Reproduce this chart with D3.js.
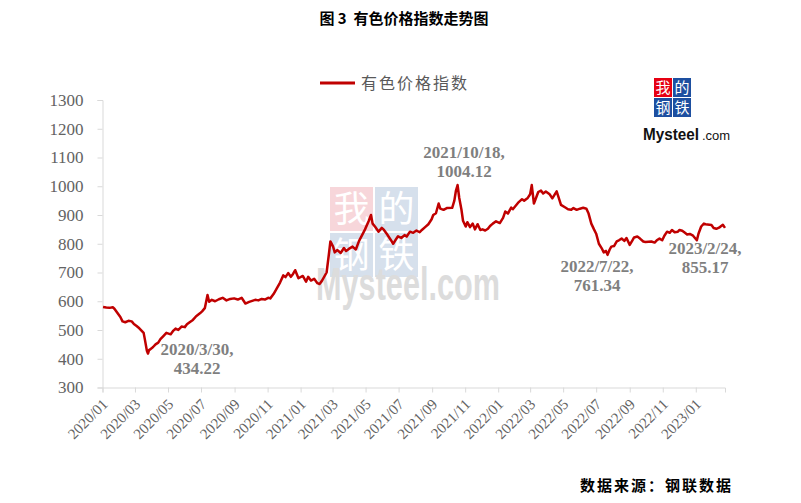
<!DOCTYPE html>
<html><head><meta charset="utf-8">
<script src="https://cdn.jsdelivr.net/npm/d3@7"></script>
<style>
html,body{margin:0;padding:0;background:#fff;}
svg{display:block;}
</style></head>
<body>
<svg id="chart" width="801" height="503"></svg>
<script>
const title = "图 3  有色价格指数走势图";
const seriesName = "有色价格指数";
const source = "数据来源：钢联数据";
const yTicks = [300,400,500,600,700,800,900,1000,1100,1200,1300];
const xTickLabels = ["2020/01","2020/03","2020/05","2020/07","2020/09","2020/11","2021/01","2021/03","2021/05","2021/07","2021/09","2021/11","2022/01","2022/03","2022/05","2022/07","2022/09","2022/11","2023/01"];
const dates = [
"2020-01-02","2020-01-08","2020-01-14","2020-01-20","2020-01-23","2020-02-03","2020-02-07","2020-02-12","2020-02-18","2020-02-24",
"2020-02-28","2020-03-04","2020-03-09","2020-03-13","2020-03-17","2020-03-19","2020-03-23","2020-03-25","2020-03-27","2020-03-30",
"2020-04-03","2020-04-08","2020-04-13","2020-04-17","2020-04-22","2020-04-28","2020-05-06","2020-05-11","2020-05-15","2020-05-20",
"2020-05-26","2020-06-01","2020-06-05","2020-06-10","2020-06-16","2020-06-22","2020-06-29","2020-07-03","2020-07-08","2020-07-13",
"2020-07-16","2020-07-21","2020-07-27","2020-08-03","2020-08-10","2020-08-17","2020-08-24","2020-08-31","2020-09-07","2020-09-14",
"2020-09-21","2020-09-28","2020-10-09","2020-10-15","2020-10-21","2020-10-27","2020-11-02","2020-11-06","2020-11-12","2020-11-18",
"2020-11-24","2020-11-30","2020-12-04","2020-12-09","2020-12-14","2020-12-18","2020-12-22","2020-12-28","2021-01-05","2021-01-11",
"2021-01-15","2021-01-20","2021-01-26","2021-02-01","2021-02-05","2021-02-09","2021-02-18","2021-02-22","2021-02-25","2021-03-02",
"2021-03-05","2021-03-10","2021-03-16","2021-03-22","2021-03-26","2021-03-31","2021-04-07","2021-04-13","2021-04-19","2021-04-26",
"2021-04-30","2021-05-07","2021-05-11","2021-05-14","2021-05-19","2021-05-25","2021-05-31","2021-06-04","2021-06-10","2021-06-16",
"2021-06-21","2021-06-25","2021-06-30","2021-07-06","2021-07-12","2021-07-16","2021-07-22","2021-07-28","2021-08-03","2021-08-09",
"2021-08-13","2021-08-19","2021-08-25","2021-08-31","2021-09-03","2021-09-08","2021-09-13","2021-09-16","2021-09-22","2021-09-28",
"2021-10-08","2021-10-12","2021-10-15","2021-10-18","2021-10-21","2021-10-25","2021-10-28","2021-11-02","2021-11-05","2021-11-10",
"2021-11-15","2021-11-19","2021-11-24","2021-11-29","2021-12-03","2021-12-08","2021-12-13","2021-12-17","2021-12-22","2021-12-28",
"2022-01-04","2022-01-10","2022-01-14","2022-01-19","2022-01-25","2022-01-28","2022-02-08","2022-02-14","2022-02-18","2022-02-24",
"2022-03-01","2022-03-04","2022-03-08","2022-03-11","2022-03-16","2022-03-21","2022-03-25","2022-03-30","2022-04-06","2022-04-11",
"2022-04-15","2022-04-19","2022-04-22","2022-04-27","2022-05-05","2022-05-10","2022-05-16","2022-05-20","2022-05-26","2022-06-01",
"2022-06-07","2022-06-13","2022-06-17","2022-06-22","2022-06-27","2022-07-01","2022-07-06","2022-07-11","2022-07-15","2022-07-19",
"2022-07-22","2022-07-26","2022-07-29","2022-08-03","2022-08-08","2022-08-12","2022-08-17","2022-08-22","2022-08-26","2022-09-01",
"2022-09-06","2022-09-09","2022-09-15","2022-09-20","2022-09-26","2022-09-30","2022-10-11","2022-10-17","2022-10-21","2022-10-26",
"2022-10-31","2022-11-04","2022-11-09","2022-11-14","2022-11-18","2022-11-23","2022-11-29","2022-12-02","2022-12-07","2022-12-12",
"2022-12-16","2022-12-21","2022-12-27","2023-01-03","2023-01-06","2023-01-11","2023-01-16","2023-01-19","2023-01-30","2023-02-03",
"2023-02-08","2023-02-13","2023-02-17","2023-02-20","2023-02-24"];
const values = [
580,578,577,579,574,545,530,527,532,530,
521,514,506,498,490,470,428,418,430,434.22,
440,450,456,468,478,490,485,498,505,500,
512,510,520,527,535,548,558,565,576,622,
598,605,600,607,612,603,608,610,606,612,
592,598,605,603,608,606,612,610,625,645,
665,690,684,698,685,695,708,680,688,668,
685,672,678,663,660,670,700,760,808,790,
770,778,768,785,775,782,790,780,810,835,
850,880,900,870,858,842,855,848,832,815,
800,812,826,820,830,825,842,838,846,840,
848,858,868,885,900,906,940,922,918,924,
925,950,985,1004.12,960,920,880,860,875,858,
870,850,868,848,850,846,852,862,870,878,
872,890,912,905,926,920,945,955,950,958,
972,1004,940,955,980,985,975,982,972,958,
970,982,965,935,926,920,918,924,918,922,
925,922,905,870,850,835,800,785,770,775,
761.34,780,790,792,808,812,818,810,820,796,
812,822,825,818,808,806,808,804,812,818,
812,828,842,838,848,840,842,848,845,838,
832,834,828,812,835,860,870,868,865,855,
852,856,862,866,855.17];
const annoDates = ["2020-03-30","2021-10-18","2022-07-22","2023-02-24"];
const annoLine1 = ["2020/3/30,","2021/10/18,","2022/7/22,","2023/2/24,"];
const annoLine2 = ["434.22","1004.12","761.34","855.17"];

const parse = d3.timeParse("%Y-%m-%d");
const data = dates.map((d,i)=>({date:parse(d), value:values[i]}));
const svg = d3.select("#chart");

const x = d3.scaleTime().domain([parse("2020-01-01"), parse("2023-02-24")]).range([102.5, 725]);
const y = d3.scaleLinear().domain([300,1300]).range([387.5, 100]);

const serif = "'Liberation Serif','Times New Roman',serif";
const cjk = "'Noto Sans CJK SC','Noto Sans',sans-serif";

// title
svg.append("text").attr("x",404).attr("y",24).attr("text-anchor","middle")
  .attr("font-family",cjk).attr("font-weight","bold").attr("font-size",15)
  .attr("fill","#000").attr("xml:space","preserve").text(title);

// watermark
const wm = svg.append("g");
const wmBoxes = [{c:"我",col:"#f7d6da",dx:0,dy:0},{c:"的",col:"#d6e0ec",dx:1,dy:0},{c:"钢",col:"#d6e0ec",dx:0,dy:1},{c:"铁",col:"#d6e0ec",dx:1,dy:1}];
wmBoxes.forEach(b=>{
  wm.append("rect").attr("x",330+b.dx*45).attr("y",187+b.dy*46).attr("width",43).attr("height",44).attr("fill",b.col);
  wm.append("text").attr("x",330+b.dx*45+21.5).attr("y",187+b.dy*46+35).attr("text-anchor","middle")
    .attr("font-family",cjk).attr("font-size",36).attr("fill","#fff").text(b.c);
});
wm.append("text").attr("x",316).attr("y",300).attr("font-family","'Liberation Sans',Arial,sans-serif")
  .attr("font-weight","bold").attr("font-size",46).attr("fill","#dcdcdc")
  .attr("textLength",184).attr("lengthAdjust","spacingAndGlyphs").text("Mysteel.com");

// axes
const gy = svg.append("g").attr("transform","translate(102.5,0)")
  .call(d3.axisLeft(y).tickValues(yTicks).tickSize(5).tickPadding(14).tickFormat(d3.format("d")));
const xTickDates = xTickLabels.map(s=>d3.timeParse("%Y/%m")(s));
const gx = svg.append("g").attr("transform","translate(0,387.5)")
  .call(d3.axisBottom(x).tickValues(xTickDates).tickSize(5).tickFormat((d,i)=>xTickLabels[i]));
[gx,gy].forEach(g=>{
  g.attr("font-family",serif);
  g.select(".domain").attr("stroke","#d9d9d9");
  g.selectAll(".tick line").attr("stroke","#d9d9d9");
  g.selectAll("text").attr("fill","#636363").attr("font-family",serif);
});
gy.selectAll("text").attr("font-size",17);
gx.selectAll("text").attr("font-size",15).attr("text-anchor","end")
  .attr("x",0).attr("y",0).attr("dy","0.35em")
  .attr("transform","translate(2,14) rotate(-45)");

// line
svg.append("path").datum(data).attr("fill","none").attr("stroke","#c00000")
  .attr("stroke-width",2.5).attr("stroke-linejoin","round")
  .attr("d", d3.line().x(d=>x(d.date)).y(d=>y(d.value)));

// legend
svg.append("line").attr("x1",320).attr("x2",355).attr("y1",83).attr("y2",83)
  .attr("stroke","#c00000").attr("stroke-width",3);
svg.append("text").attr("x",361).attr("y",89).attr("font-family",cjk).attr("font-size",16)
  .attr("letter-spacing",2).attr("fill","#595959").text(seriesName);

// small logo
const lg = svg.append("g");
const lgBoxes = [{c:"我",col:"#e60012",dx:0,dy:0},{c:"的",col:"#1d4fa0",dx:1,dy:0},{c:"钢",col:"#1d4fa0",dx:0,dy:1},{c:"铁",col:"#1d4fa0",dx:1,dy:1}];
lgBoxes.forEach(b=>{
  lg.append("rect").attr("x",654+b.dx*19).attr("y",78+b.dy*20).attr("width",18).attr("height",19).attr("fill",b.col);
  lg.append("text").attr("x",654+b.dx*19+9).attr("y",78+b.dy*20+15).attr("text-anchor","middle")
    .attr("font-family",cjk).attr("font-size",15).attr("fill","#fff").text(b.c);
});
lg.append("text").attr("x",643).attr("y",140).attr("font-family","'Liberation Sans',Arial,sans-serif")
  .attr("font-weight","bold").attr("font-size",16.5).attr("fill","#111")
  .attr("textLength",56).attr("lengthAdjust","spacingAndGlyphs").text("Mysteel");
lg.append("text").attr("x",702).attr("y",140).attr("font-family","'Liberation Sans',Arial,sans-serif")
  .attr("font-size",13).attr("fill","#111").text(".com");

// annotations
const annoPos = [{x:197,y1:355,y2:374},{x:464,y1:158,y2:177},{x:597,y1:272,y2:291},{x:705,y1:254,y2:273}];
annoDates.forEach((d,i)=>{
  const p = annoPos[i];
  svg.append("text").attr("x",p.x).attr("y",p.y1).attr("text-anchor","middle")
    .attr("font-family",serif).attr("font-weight","bold").attr("font-size",17).attr("fill","#7f7f7f").text(annoLine1[i]);
  svg.append("text").attr("x",p.x).attr("y",p.y2).attr("text-anchor","middle")
    .attr("font-family",serif).attr("font-weight","bold").attr("font-size",17).attr("fill","#7f7f7f").text(annoLine2[i]);
});

// source
svg.append("text").attr("x",733).attr("y",491).attr("text-anchor","end")
  .attr("font-family",cjk).attr("font-weight","bold").attr("font-size",15).attr("letter-spacing",2)
  .attr("fill","#000").text(source);
</script>
</body></html>
